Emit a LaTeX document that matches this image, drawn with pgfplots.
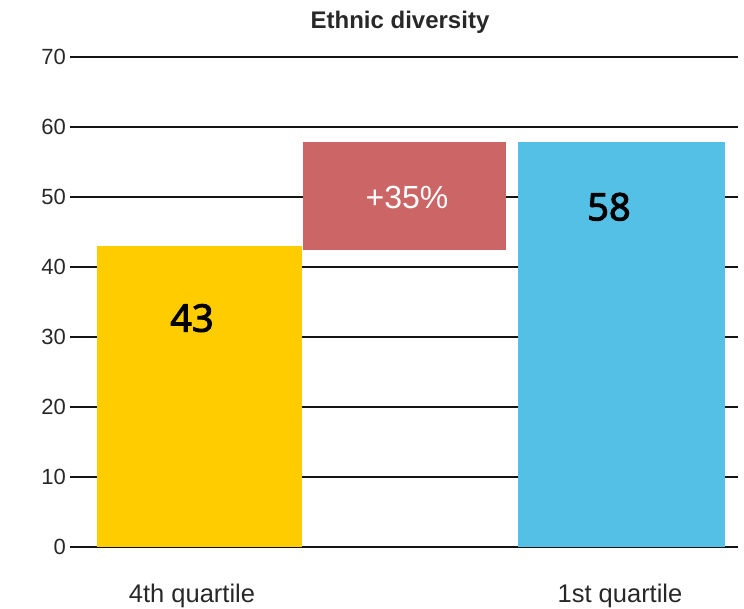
\documentclass[border=0pt]{standalone}
\usepackage{fontspec}
\setmainfont{Liberation Sans}
\newfontfamily\notob{Noto Sans}[AutoFakeBold=2.5]
\usepackage{pgfplots}
\pgfplotsset{compat=1.18}
\definecolor{cyellow}{RGB}{255,204,0}
\definecolor{cblue}{RGB}{84,192,230}
\definecolor{cred}{RGB}{204,102,102}
\definecolor{cgrid}{RGB}{20,20,20}
\definecolor{ctext}{RGB}{40,40,40}
\begin{document}
\begin{tikzpicture}
\useasboundingbox (-70pt,-62pt) rectangle (674pt,547pt);
\begin{axis}[
  scale only axis,
  width=668pt, height=490pt,
  xmin=70, xmax=738,
  ymin=0, ymax=70,
  ytick={0,10,...,70},
  xtick={192,620},
  xticklabels={4th quartile,1st quartile},
  axis line style={draw=none},
  major tick style={draw=none},
  ymajorgrids,
  grid style={cgrid, line width=2pt},
  /pgf/number format/assume math mode=true,
  yticklabel style={font=\fontsize{22}{24}\selectfont, text=ctext, anchor=east, inner sep=0pt, xshift=-4pt},
  xticklabel style={font=\fontsize{25.5}{28}\selectfont, text=ctext, anchor=base, inner sep=0pt, yshift=-51pt},
  clip=false,
  ybar, bar shift=0pt,
]
\addplot[fill=cyellow, draw=none, bar width=205] coordinates {(199.5,43)};
\addplot[fill=cblue, draw=none, bar width=207] coordinates {(621.5,57.9)};
\addplot[fill=cred, draw=none, sharp plot] coordinates {(303,42.4) (506,42.4) (506,57.9) (303,57.9)} --cycle;
\node[font=\bfseries\fontsize{24}{28}\selectfont, text=ctext, anchor=base] at (axis cs:400,74.0) {Ethnic diversity};
\node[font=\notob\bfseries\fontsize{38}{40}\selectfont] at (axis cs:192,32.7) {43};
\node[font=\notob\bfseries\fontsize{38}{40}\selectfont] at (axis cs:609,48.6) {58};
\node[font=\fontsize{32}{34}\selectfont, text=white] at (axis cs:407,50) {+35\%};
\end{axis}
\end{tikzpicture}
\end{document}
